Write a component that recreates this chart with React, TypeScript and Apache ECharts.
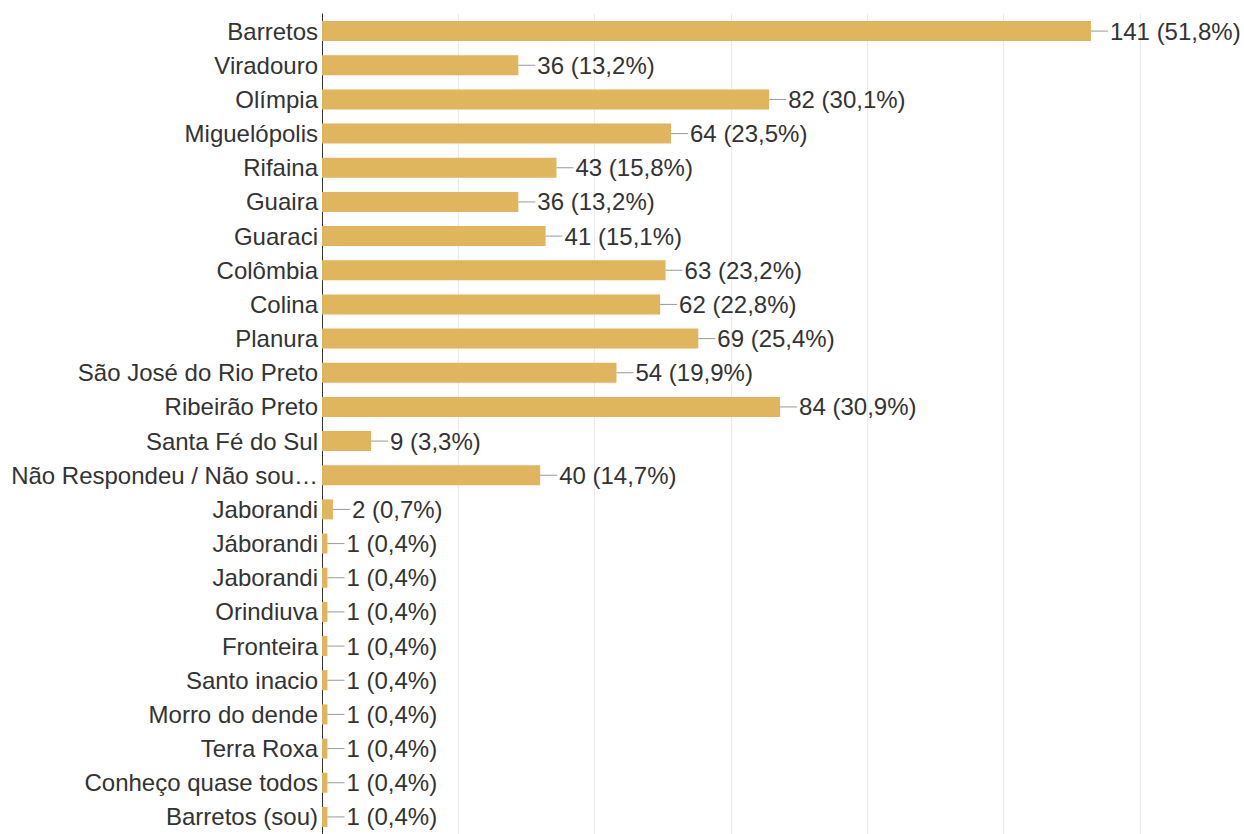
import React, { useEffect, useRef } from "react";
import * as echarts from "echarts";

const categories = [
  "Barretos",
  "Viradouro",
  "Olímpia",
  "Miguelópolis",
  "Rifaina",
  "Guaira",
  "Guaraci",
  "Colômbia",
  "Colina",
  "Planura",
  "São José do Rio Preto",
  "Ribeirão Preto",
  "Santa Fé do Sul",
  "Não Respondeu / Não sou…",
  "Jaborandi",
  "Jáborandi",
  "Jaborandi ",
  "Orindiuva",
  "Fronteira",
  "Santo inacio",
  "Morro do dende",
  "Terra Roxa",
  "Conheço quase todos",
  "Barretos (sou)",
];

const values = [141, 36, 82, 64, 43, 36, 41, 63, 62, 69, 54, 84, 9, 40, 2, 1, 1, 1, 1, 1, 1, 1, 1, 1];

const percents = [
  "51,8%", "13,2%", "30,1%", "23,5%", "15,8%", "13,2%", "15,1%", "23,2%", "22,8%", "25,4%",
  "19,9%", "30,9%", "3,3%", "14,7%", "0,7%", "0,4%", "0,4%", "0,4%", "0,4%", "0,4%",
  "0,4%", "0,4%", "0,4%", "0,4%",
];

const xTicks = { min: 0, max: 150, interval: 25 };

export default function App() {
  const ref = useRef<HTMLDivElement>(null);
  useEffect(() => {
    if (!ref.current) return;
    const chart = echarts.init(ref.current, null, { renderer: "svg" });
    const font = "'Liberation Sans', Arial, sans-serif";
    chart.setOption({
      animation: false,
      backgroundColor: "#ffffff",
      grid: { left: 322, right: 104, top: 14, bottom: 0, containLabel: false },
      xAxis: {
        type: "value",
        min: xTicks.min,
        max: xTicks.max,
        interval: xTicks.interval,
        axisLabel: { show: false },
        axisLine: { show: false },
        axisTick: { show: false },
        splitLine: { show: true, lineStyle: { color: "#ebebeb", width: 1 } },
      },
      yAxis: {
        type: "category",
        data: categories,
        inverse: true,
        axisTick: { show: false },
        axisLine: { show: true, lineStyle: { color: "#333333", width: 1 } },
        axisLabel: {
          margin: 4,
          color: "#333333",
          fontSize: 24,
          fontFamily: font,
          formatter: (v: string) => v.trim(),
        },
        splitLine: { show: false },
      },
      series: [
        {
          type: "bar",
          data: values,
          barWidth: 20,
          itemStyle: { color: "#DFB55D" },
          label: {
            show: true,
            position: "right",
            distance: 0,
            formatter: (p: any) => `{l| }{t|${p.value} (${percents[p.dataIndex]})}`,
            rich: {
              l: { width: 17, height: 1, backgroundColor: "#9a9a9a", fontSize: 1 },
              t: { color: "#333333", fontSize: 24, fontFamily: font, padding: [0, 0, 0, 2] },
            },
          },
        },
      ],
    });
    return () => chart.dispose();
  }, []);
  return (
    <div
      ref={ref}
      style={{ position: "absolute", left: 0, top: 0, width: 1244, height: 834 }}
    />
  );
}
